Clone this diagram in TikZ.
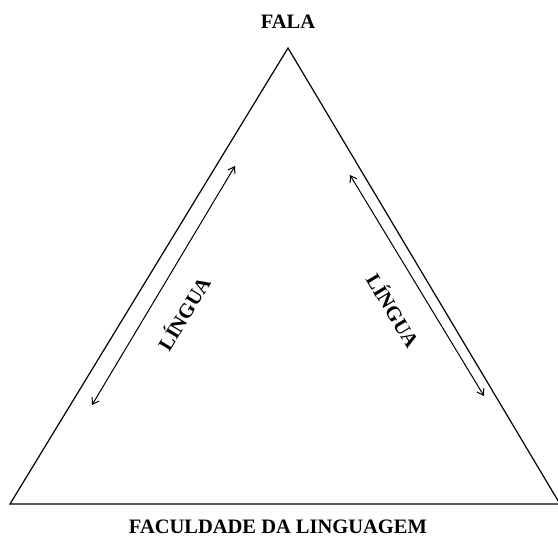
\documentclass[tikz,border=0pt]{standalone}
\usepackage{fontspec}
\setmainfont{Liberation Serif}
\usetikzlibrary{arrows.meta}
\begin{document}
\begin{tikzpicture}[x=1pt,y=-1pt,
  lbl/.style={font=\fontsize{20.5}{23}\selectfont\bfseries, inner sep=0pt},
  side/.style={line width=1.2pt, line join=miter},
  dbl/.style={line width=1pt, {Straight Barb[length=6pt,width=8pt]}-{Straight Barb[length=6pt,width=8pt]}}]
\useasboundingbox (0,0) rectangle (558,538);
\begin{scope}
\clip (0,0) rectangle (558,538);
\coordinate (A) at (288,48);
\coordinate (L) at (10,504);
\coordinate (R) at (560,504);
\draw[side] (L) -- (A) -- (R) -- cycle;
\end{scope}
\node[lbl] (fala) at (288,22) {FALA};
\node[lbl] (fac) at (278,527) {FACULDADE DA LINGUAGEM};
\coordinate (l1) at (92,405);
\coordinate (l2) at (235,166);
\coordinate (r1) at (350,175);
\coordinate (r2) at (484,396);
\draw[dbl] (l1) -- (l2);
\draw[dbl] (r1) -- (r2);
\node[lbl, rotate=59] (ling1) at (183,313) {LÍNGUA};
\node[lbl, rotate=-59] (ling2) at (394,310) {LÍNGUA};
\end{tikzpicture}
\end{document}
